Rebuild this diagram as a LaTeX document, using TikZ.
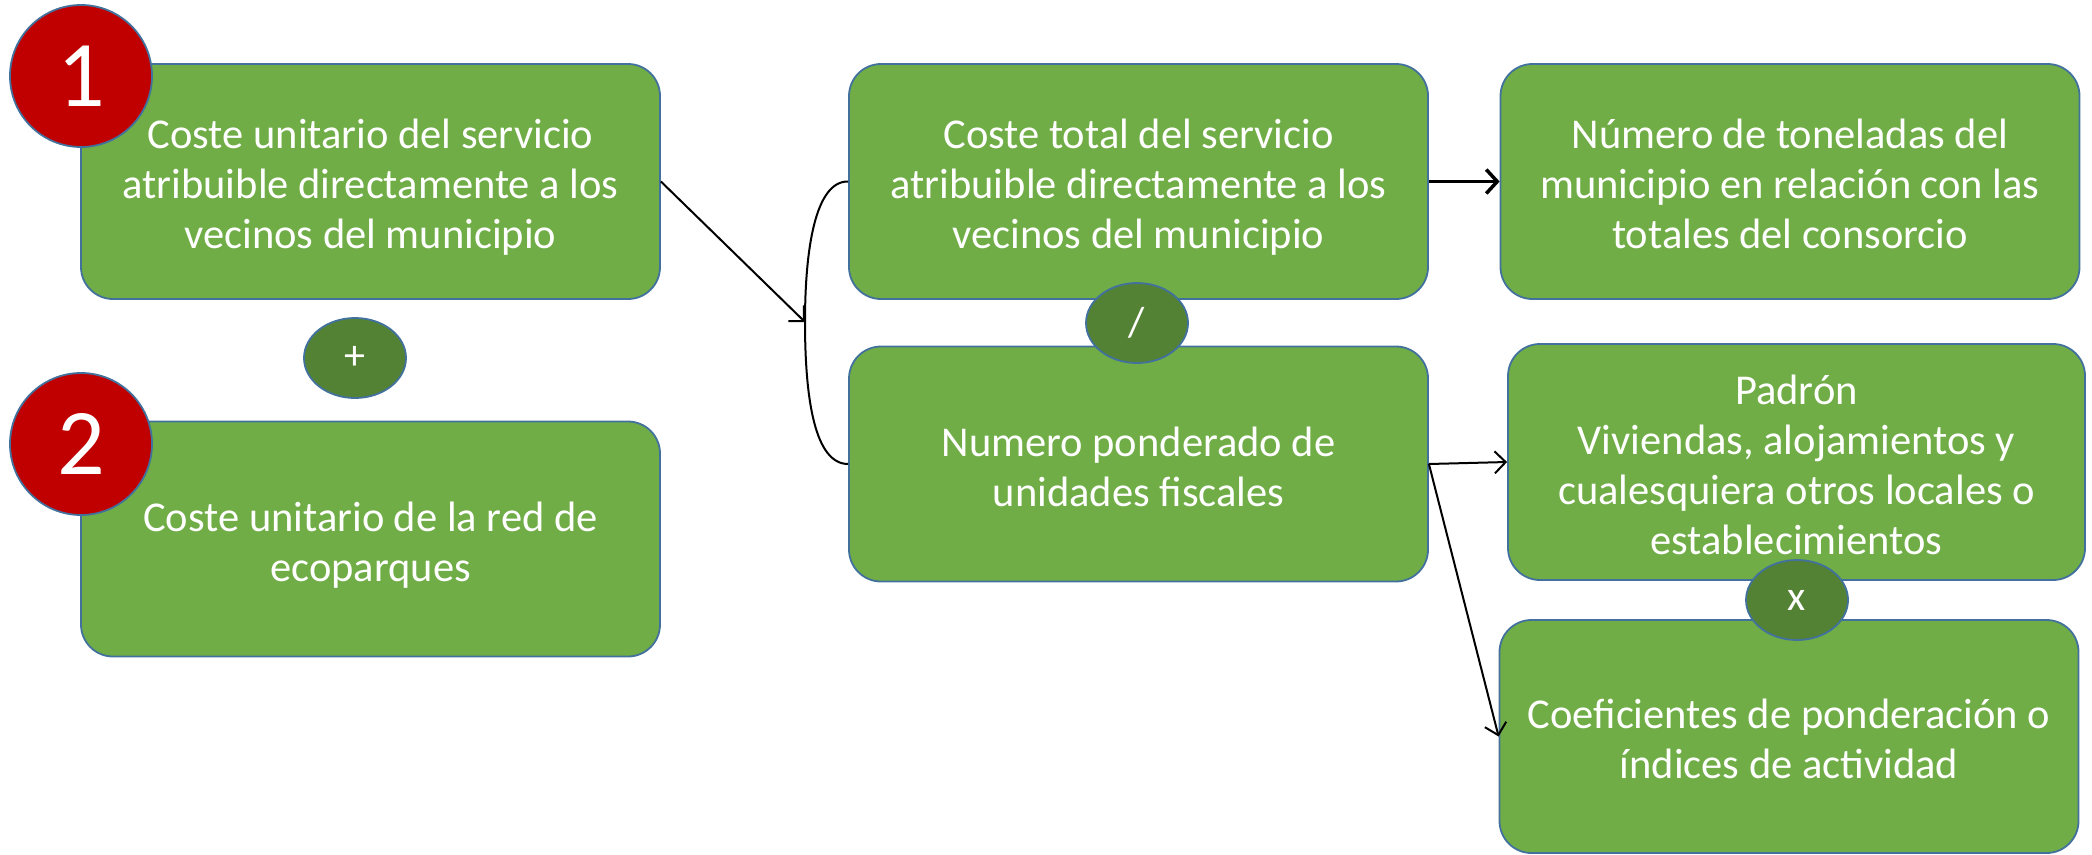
\documentclass[tikz,border=0pt]{standalone}
\usepackage{fontspec}
\setmainfont{Carlito}
\usetikzlibrary{arrows.meta,shapes.geometric}
\definecolor{boxgreen}{HTML}{70AD47}
\definecolor{darkgreen}{HTML}{548235}
\definecolor{edgeblue}{HTML}{41719C}
\definecolor{numred}{HTML}{C00000}
\newcommand\mystrut{\rule[-8pt]{0pt}{50pt}}
\tikzset{
  box/.style={draw=edgeblue, line width=1.8pt, fill=boxgreen, rounded corners=32pt,
    minimum width=579pt, minimum height=235pt, inner sep=0pt, align=center,
    text=white, font=\fontsize{42.5}{50}\selectfont},
  opnode/.style={draw=edgeblue, line width=1.8pt, fill=darkgreen, ellipse,
    minimum width=102pt, minimum height=80pt, inner sep=0pt, text=white,
    font=\fontsize{42}{50}\selectfont},
  numnode/.style={draw=edgeblue, line width=1.8pt, fill=numred, circle,
    minimum size=142pt, inner sep=0pt, text=white, font=\fontsize{94}{100}\selectfont},
  conn/.style={draw=black, line width=2pt, -{Straight Barb[length=11pt,width=22pt,line width=2pt]}},
  thickconn/.style={draw=black, line width=3.5pt, -{Straight Barb[length=11pt,width=24pt,line width=3.5pt]}},
}
\begin{document}
\begin{tikzpicture}[x=1pt,y=-1pt]
\useasboundingbox (0,0) rectangle (2092,854);
% boxes
\node[box] (a) at (370.5,181.5) {\mystrut Coste unitario del servicio\\\mystrut atribuible directamente a los\\\mystrut vecinos del municipio};
\node[box] (b) at (370.5,539) {\mystrut Coste unitario de la red de\\\mystrut ecoparques};
\node[box] (c) at (1138.5,181.5) {\mystrut Coste total del servicio\\\mystrut atribuible directamente a los\\\mystrut vecinos del municipio};
\node[box] (d) at (1138.5,464) {\mystrut Numero ponderado de\\\mystrut unidades fiscales};
\node[box] (e) at (1790,181.5) {\mystrut Número de toneladas del\\\mystrut municipio en relación con las\\\mystrut totales del consorcio};
\node[box, minimum width=577pt, minimum height=236pt] (f) at (1796.5,462) {\mystrut Padrón\\\mystrut Viviendas, alojamientos y\\\mystrut cualesquiera otros locales o\\\mystrut establecimientos};
\node[box, minimum width=579pt, minimum height=233pt] (g) at (1789,736.5) {\mystrut Coeficientes de ponderación o\\\mystrut índices de actividad};
% operators
\node[opnode] (plus) at (355,358) {+};
\node[opnode] (div) at (1137,323) {/};
\node[opnode] (times) at (1797,600) {x};
% numbers
\node[numnode] (n1) at (81,76) {1};
\node[numnode] (n2) at (81,444) {2};
% connectors
\coordinate (bm) at (805,322);
\draw[line width=2pt] (c.west) .. controls (815,181) and (805,250) .. (bm) .. controls (805,400) and (815,464) .. (d.west);
\draw[conn] (a.east) -- (bm);
\draw[thickconn] (c.east) -- (e.west);
\draw[conn] (d.east) -- (f.west);
\draw[conn] (d.east) -- (g.west);
\end{tikzpicture}
\end{document}
